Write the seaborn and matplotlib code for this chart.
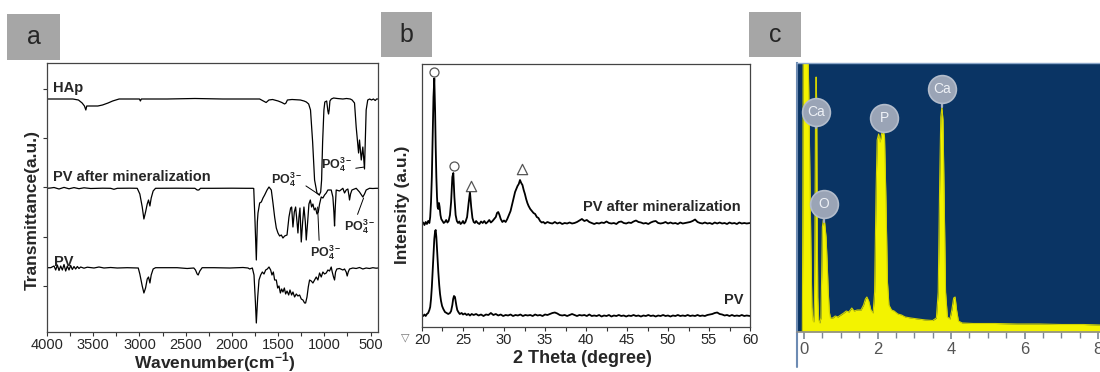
import pandas as pd
import matplotlib
matplotlib.use('Agg')
import matplotlib.pyplot as plt
import seaborn as sns
from matplotlib.patches import Rectangle
from matplotlib.ticker import MultipleLocator

# ---------------- panel a: FTIR, (wavenumber, offset transmittance) ----------------
hap_pts = [(4000, 233), (3800, 233), (3720, 233), (3660, 232), (3620, 229), (3595, 226), (3580, 222),
           (3570, 226), (3550, 226), (3500, 226), (3450, 226), (3400, 227), (3340, 229), (3290, 231),
           (3220, 233), (3000, 233), (2990, 231), (2980, 233), (2700, 233), (2400, 233.5), (2100, 233),
           (1800, 233), (1700, 233), (1660, 231), (1630, 229.5), (1600, 232), (1560, 232.5), (1500, 231),
           (1460, 229.5), (1430, 228), (1415, 229), (1400, 232), (1350, 232.5), (1260, 232), (1220, 231),
           (1195, 230), (1170, 228), (1150, 222), (1127, 190), (1106, 152), (1080, 139), (1055, 137),
           (1040, 140), (1030, 152), (1019, 190), (1005, 222), (995, 230), (975, 231), (962, 221),
           (955, 218), (948, 222), (940, 231), (925, 233), (900, 234), (860, 233.5), (800, 233),
           (760, 233.5), (720, 233), (700, 232), (674, 229), (656, 205), (630, 179), (620, 192),
           (601, 172), (584, 185), (566, 163), (548, 222), (531, 232), (510, 233), (490, 232),
           (470, 233), (450, 231.5), (435, 233), (420, 233)]

mpv_pts = [(4000, 143.7), (3960, 144), (3924, 144.5), (3870, 143), (3816, 144.6), (3762, 143.2),
           (3708, 144.4), (3654, 143.3), (3600, 144.2), (3528, 143.5), (3400, 143.8), (3312, 143.7),
           (3276, 142.7), (3240, 143.7), (3100, 143.8), (3024, 143.7), (2996, 138), (2970, 125),
           (2952, 113), (2934, 120), (2916, 128), (2902, 132), (2887, 126), (2873, 134), (2852, 141),
           (2826, 143.7), (2600, 143.8), (2400, 143.7), (2376, 142), (2358, 142), (2340, 143.7),
           (2200, 143.7), (2000, 143.8), (1850, 143.7), (1772, 143.7), (1764, 143.5), (1750, 110),
           (1736, 72), (1725, 110), (1718, 119), (1700, 129), (1682, 130), (1664, 134), (1646, 137),
           (1620, 142), (1599, 145), (1574, 142), (1556, 129), (1538, 115), (1520, 104), (1502, 99),
           (1484, 96), (1466, 97), (1448, 94), (1430, 96), (1404, 97), (1383, 115), (1365, 124),
           (1354, 125), (1340, 105), (1325, 120), (1311, 125), (1296, 110), (1286, 99), (1275, 115),
           (1264, 124), (1250, 90), (1235, 110), (1221, 125), (1206, 110), (1196, 92), (1181, 110),
           (1167, 128), (1152, 132), (1138, 125), (1124, 128), (1109, 122), (1095, 124), (1080, 118),
           (1066, 120), (1052, 128), (1034, 135), (1016, 134), (998, 137), (980, 139), (962, 142),
           (926, 142), (908, 135), (897, 120), (890, 106), (882, 125), (872, 142), (836, 141),
           (800, 143.7), (782, 139), (764, 142), (746, 143), (735, 137), (728, 132), (717, 138),
           (702, 142), (656, 143.7), (620, 140), (584, 135), (566, 138), (548, 142), (512, 143.7),
           (476, 143.5), (440, 143.7), (420, 143.7)]

pv_pts = [(4000, 64.3), (3960, 64.3), (3924, 66), (3906, 62), (3888, 67), (3870, 61.5), (3852, 66),
          (3834, 62), (3816, 67.5), (3798, 61), (3780, 66), (3762, 62), (3744, 66.5), (3726, 62.5),
          (3708, 65.5), (3690, 63), (3672, 65.5), (3654, 63.5), (3636, 65), (3600, 63.8), (3564, 64.8),
          (3492, 64), (3438, 65), (3384, 64), (3312, 64.5), (3240, 64), (3132, 64.3), (3013, 64),
          (2996, 58), (2970, 46), (2952, 39), (2934, 44), (2916, 53), (2902, 55), (2887, 49),
          (2873, 57), (2852, 63), (2826, 64.3), (2592, 64.3), (2484, 63.5), (2412, 64), (2394, 62),
          (2376, 58), (2365, 57), (2347, 61), (2322, 64.3), (2196, 64.3), (2024, 64), (1880, 64.5),
          (1826, 64), (1808, 63), (1779, 64), (1761, 57), (1746, 30), (1736, 9), (1721, 35),
          (1707, 52), (1689, 57), (1671, 60), (1653, 58), (1635, 62), (1617, 63), (1599, 65),
          (1581, 62), (1567, 57), (1552, 60), (1538, 52), (1520, 52), (1505, 44), (1491, 46),
          (1476, 39), (1462, 43), (1448, 40), (1433, 44), (1419, 38), (1404, 41), (1386, 37),
          (1372, 42), (1354, 37), (1340, 40), (1322, 35), (1304, 38), (1286, 36), (1268, 37),
          (1250, 33), (1232, 32), (1214, 29), (1203, 29), (1188, 35), (1174, 45), (1160, 52),
          (1142, 51), (1124, 49), (1106, 52), (1088, 55), (1070, 52), (1052, 59), (1034, 55),
          (1016, 60), (998, 58), (980, 59), (962, 62), (944, 61), (926, 65), (915, 60), (901, 55),
          (890, 52), (879, 60), (865, 63), (836, 63.5), (800, 62), (782, 63), (764, 60), (753, 56),
          (742, 60), (728, 63), (692, 64), (656, 63.5), (620, 64.5), (584, 63), (548, 64),
          (512, 63.5), (476, 64.3), (440, 63.8), (420, 64)]

a_yticks = [46, 95, 145, 194, 243]
# PO4 labels: (text x, text y, target x, target y, ha, relpos)
po4_notes = [(1235, 152, 1052, 137, 'right', (1.0, 0.3)),
             (696, 167, 566, 165, 'right', (1.0, 0.3)),
             (987, 79, 1073, 125, 'center', (0.3, 1.0)),
             (620, 105, 576, 134, 'center', (0.4, 1.0))]

# ---------------- panel b: XRD, (2 theta, offset intensity) ----------------
xrd_min_pts = [(20.0, 103), (20.15, 104.5), (20.3, 102), (20.45, 105), (20.6, 103), (20.75, 106),
               (20.9, 104), (21.0, 110), (21.1, 125), (21.2, 150), (21.3, 190), (21.4, 230),
               (21.5, 248.7), (21.6, 215), (21.67, 180), (21.75, 150), (21.83, 130), (21.9, 120),
               (21.99, 118), (22.07, 124), (22.15, 120), (22.25, 112), (22.35, 108), (22.5, 106),
               (22.65, 104), (22.8, 105), (22.95, 107), (23.1, 104.5), (23.25, 106), (23.41, 112),
               (23.55, 125), (23.7, 150), (23.82, 154), (23.95, 130), (24.1, 112), (24.25, 106),
               (24.4, 104), (24.55, 105.5), (24.7, 103), (24.85, 104), (25.0, 106), (25.15, 103.5),
               (25.3, 105), (25.5, 110), (25.7, 125), (25.85, 135), (26.0, 120), (26.15, 109),
               (26.3, 105), (26.45, 104), (26.6, 106), (26.8, 104), (27.0, 103), (27.2, 105.5),
               (27.4, 104), (27.6, 106), (27.8, 103.5), (28.0, 105), (28.2, 107), (28.4, 104.5),
               (28.6, 106), (28.8, 108), (29.0, 110), (29.15, 114), (29.3, 115), (29.45, 112),
               (29.6, 108), (29.8, 105), (30.0, 106.5), (30.2, 105), (30.4, 108), (30.6, 112),
               (30.8, 116), (31.0, 123), (31.2, 130), (31.35, 135), (31.5, 138), (31.65, 141),
               (31.8, 143), (31.95, 147), (32.1, 144), (32.25, 142), (32.4, 137), (32.55, 133),
               (32.7, 128), (32.85, 124), (33.0, 121), (33.2, 118), (33.4, 116), (33.6, 114),
               (33.8, 113), (34.0, 110), (34.2, 109), (34.4, 106), (34.6, 104.5), (34.8, 105),
               (35.0, 103.5), (35.3, 105), (35.6, 104), (35.9, 103.5), (36.2, 105), (36.5, 103.5),
               (36.8, 104.5), (37.1, 103), (37.4, 104), (37.7, 103.5), (38.0, 104.5), (38.3, 103.5),
               (38.6, 104), (38.9, 105), (39.2, 106.5), (39.5, 108), (39.8, 106), (40.1, 107),
               (40.4, 105), (40.7, 104), (41.0, 103), (41.3, 104), (41.6, 103.5), (41.9, 104.5),
               (42.2, 104), (42.5, 105.5), (42.8, 104), (43.1, 103.5), (43.4, 104), (43.7, 103),
               (44.0, 105), (44.3, 105.5), (44.6, 104), (44.9, 103.5), (45.2, 104.5), (45.5, 104),
               (45.8, 105.5), (46.1, 106.5), (46.4, 105), (46.7, 104.5), (47.0, 103.5), (47.3, 104),
               (47.6, 103), (47.9, 104.5), (48.2, 105.5), (48.5, 106), (48.8, 104), (49.1, 103.5),
               (49.4, 104), (49.7, 105), (50.0, 103.5), (50.3, 104.5), (50.6, 103.5), (50.9, 104),
               (51.2, 103), (51.5, 104.5), (51.8, 103.5), (52.1, 104), (52.4, 104.5), (52.7, 105),
               (53.0, 106), (53.3, 107.5), (53.6, 105), (53.9, 104), (54.2, 103.5), (54.5, 104.5),
               (54.8, 103.5), (55.1, 104), (55.4, 103), (55.7, 104.5), (56.0, 103.5), (56.3, 104.5),
               (56.6, 103.5), (56.9, 104), (57.2, 103), (57.5, 104.5), (57.8, 103.5), (58.1, 104),
               (58.4, 103), (58.7, 104.5), (59.0, 103.5), (59.3, 104), (59.6, 103.5), (60.0, 104)]

xrd_pv_pts = [(20.0, 12), (20.15, 11), (20.3, 12.5), (20.45, 11), (20.6, 13), (20.75, 14), (20.9, 17),
              (21.0, 20), (21.1, 28), (21.2, 40), (21.3, 55), (21.4, 72), (21.5, 88), (21.6, 96),
              (21.67, 97), (21.75, 90), (21.83, 78), (21.9, 66), (21.99, 55), (22.1, 42), (22.2, 33),
              (22.32, 26), (22.45, 21), (22.6, 18), (22.8, 15), (23.0, 14), (23.2, 13), (23.41, 14),
              (23.55, 16), (23.7, 22), (23.8, 28), (23.9, 31), (24.02, 30), (24.1, 26), (24.2, 21),
              (24.3, 17), (24.43, 15), (24.6, 13), (24.84, 14), (25.0, 12.5), (25.24, 13.5),
              (25.45, 12), (25.65, 13), (25.85, 11.5), (26.06, 13), (26.3, 12), (26.6, 13),
              (26.9, 11.5), (27.2, 12.5), (27.5, 11), (27.8, 12.5), (28.1, 12), (28.4, 14), (28.7, 12),
              (29.0, 13), (29.3, 11.5), (29.6, 12.5), (29.9, 11), (30.2, 12), (30.5, 11.5),
              (30.8, 12.5), (31.1, 11), (31.4, 12), (31.7, 11.5), (32.0, 12.5), (32.3, 11), (32.6, 12),
              (32.9, 11.5), (33.2, 12), (33.5, 11), (33.8, 12.5), (34.1, 11.5), (34.4, 12), (34.7, 11),
              (35.0, 12.5), (35.3, 12), (35.6, 13), (35.9, 14), (36.2, 14.5), (36.5, 13.5), (36.8, 12),
              (37.1, 11.5), (37.4, 12), (37.7, 11), (38.0, 12), (38.3, 13), (38.6, 12), (38.9, 11),
              (39.2, 12), (39.5, 11.5), (39.8, 12), (40.1, 11), (40.4, 12.5), (40.7, 11), (41.0, 11.5),
              (41.3, 11), (41.6, 12), (41.9, 10.5), (42.2, 11.5), (42.5, 11), (42.8, 12), (43.1, 10.5),
              (43.4, 11.5), (43.7, 11), (44.0, 12), (44.3, 11), (44.6, 11.5), (44.9, 10.5),
              (45.2, 11.5), (45.5, 11), (45.8, 12), (46.1, 11), (46.4, 11.5), (46.7, 10.5),
              (47.0, 11.5), (47.3, 11), (47.6, 12), (47.9, 11), (48.2, 11.5), (48.5, 10.5),
              (48.8, 11.5), (49.1, 11), (49.4, 12), (49.7, 11), (50.0, 11.5), (50.3, 10.5),
              (50.6, 11.5), (50.9, 11), (51.2, 12), (51.5, 11), (51.8, 11.5), (52.1, 11), (52.4, 12),
              (52.7, 11), (53.0, 11.5), (53.3, 11), (53.6, 12), (53.9, 11), (54.2, 11.5), (54.5, 11),
              (54.8, 12), (55.1, 12.5), (55.4, 13), (55.7, 14), (56.0, 14.5), (56.3, 13), (56.6, 12.5),
              (56.9, 11.5), (57.2, 12), (57.5, 11), (57.8, 12), (58.1, 11), (58.4, 11.5), (58.7, 11),
              (59.0, 12), (59.3, 11), (59.6, 11.5), (60.0, 11)]

circle_x = [21.5, 23.94]
circle_y = [255.3, 161]
triangle_x = [25.98, 32.16]
triangle_y = [141, 157.7]

# ---------------- panel c: EDS, (keV, counts) ----------------
eds_pts = [(-0.19, 0), (-0.045, 0), (-0.03, 150), (-0.02, 300), (0.10, 300), (0.13, 240), (0.16, 160),
           (0.19, 80), (0.215, 25), (0.24, 12), (0.265, 10), (0.285, 30), (0.30, 120), (0.315, 230),
           (0.33, 255), (0.345, 230), (0.36, 110), (0.375, 35), (0.40, 12), (0.43, 9), (0.46, 14),
           (0.48, 55), (0.50, 105), (0.53, 113), (0.56, 110), (0.60, 95), (0.63, 70), (0.66, 40),
           (0.69, 20), (0.72, 14), (0.78, 14), (0.85, 16), (0.92, 15), (1.0, 17), (1.08, 19),
           (1.15, 21), (1.22, 20), (1.3, 24), (1.36, 21), (1.45, 22), (1.55, 22), (1.62, 27),
           (1.67, 33), (1.71, 35), (1.76, 31), (1.82, 22), (1.88, 19), (1.92, 40), (1.96, 140),
           (1.99, 192), (2.03, 198), (2.07, 190), (2.11, 198), (2.15, 203), (2.19, 195), (2.23, 130),
           (2.27, 50), (2.31, 27), (2.38, 22), (2.45, 21), (2.55, 18), (2.65, 17), (2.75, 15),
           (2.9, 14), (3.1, 13), (3.3, 12), (3.5, 11.5), (3.6, 14), (3.65, 40), (3.69, 150),
           (3.72, 215), (3.75, 225), (3.78, 212), (3.81, 140), (3.85, 40), (3.9, 15), (3.97, 13),
           (4.02, 22), (4.07, 34), (4.11, 35), (4.15, 22), (4.2, 11), (4.3, 9), (4.6, 8.5),
           (5.2, 8.5), (5.8, 8), (6.4, 8), (7.0, 7.5), (7.6, 7.5), (8.05, 7)]

eds_labels = ['Ca', 'O', 'P', 'Ca']
eds_label_x = [0.32, 0.55, 2.18, 3.75]
eds_label_y = [220, 128, 214, 243]
eds_stem_y = [204, 110, 200, 225]

hap = pd.DataFrame(hap_pts, columns=['wn', 't'])
mpv = pd.DataFrame(mpv_pts, columns=['wn', 't'])
pv = pd.DataFrame(pv_pts, columns=['wn', 't'])
xrd_min = pd.DataFrame(xrd_min_pts, columns=['theta', 'i'])
xrd_pv = pd.DataFrame(xrd_pv_pts, columns=['theta', 'i'])
eds = pd.DataFrame(eds_pts, columns=['kev', 'cps'])

sns.set_style('ticks')
plt.rcParams['font.family'] = ['Liberation Sans', 'DejaVu Sans']
plt.rcParams['mathtext.fontset'] = 'custom'
plt.rcParams['mathtext.rm'] = 'Liberation Sans'
plt.rcParams['mathtext.bf'] = 'Liberation Sans:bold'

W, H = 1100, 372
fig = plt.figure(figsize=(11, 3.72), dpi=100)
ax1 = fig.add_axes([47 / W, 1 - 332 / H, 331 / W, 269 / H])
ax2 = fig.add_axes([422 / W, 1 - 327 / H, 328 / W, 263 / H])
ax3 = fig.add_axes([797 / W, 1 - 332 / H, 303 / W, 269 / H])

# ---- panel a ----
for df in (hap, mpv, pv):
    sns.lineplot(data=df, x='wn', y='t', ax=ax1, color='black', lw=0.9, sort=False, estimator=None)
ax1.set_xlim(4000, 420)
ax1.set_ylim(0, 269)
ax1.xaxis.set_major_locator(MultipleLocator(500))
ax1.xaxis.set_minor_locator(MultipleLocator(250))
ax1.set_yticks(a_yticks)
ax1.set_yticklabels([])
ax1.tick_params(which='both', direction='out', length=3, width=0.8, color='#333333',
                labelsize=10.5, pad=1)
ax1.set_xlabel(r'Wavenumber(cm$^{\mathbf{-1}}$)', fontsize=12.5, fontweight='bold', va='center')
ax1.xaxis.set_label_coords(0.508, -0.112)
ax1.set_ylabel('Transmittance(a.u.)', fontsize=12.5, fontweight='bold', va='center')
ax1.yaxis.set_label_coords(-0.045, 0.453)
ax1.text(3935, 244, 'HAp', fontsize=10.5, fontweight='bold', va='center')
ax1.text(3935, 155, 'PV after mineralization', fontsize=10.5, fontweight='bold', va='center')
ax1.text(3924, 70.5, 'PV', fontsize=10.5, fontweight='bold', va='center')
for tx, ty, px, py, ha, rp in po4_notes:
    ax1.annotate(r'$\mathbf{PO_4^{3-}}$', xy=(px, py), xytext=(tx, ty), ha=ha, va='center',
                 fontsize=9, arrowprops=dict(arrowstyle='-', lw=0.7, color='black', relpos=rp,
                                             shrinkA=0, shrinkB=0))

# ---- panel b ----
sns.lineplot(data=xrd_min, x='theta', y='i', ax=ax2, color='black', lw=1.3, sort=False, estimator=None)
sns.lineplot(data=xrd_pv, x='theta', y='i', ax=ax2, color='black', lw=1.3, sort=False, estimator=None)
sns.scatterplot(x=circle_x, y=circle_y, ax=ax2, marker='o', s=42, facecolor='white',
                edgecolor='#555555', linewidth=0.9, zorder=5)
sns.scatterplot(x=triangle_x, y=triangle_y, ax=ax2, marker='^', s=55, facecolor='white',
                edgecolor='#555555', linewidth=0.9, zorder=5)
ax2.set_xlim(20, 60)
ax2.set_ylim(0, 263)
ax2.xaxis.set_major_locator(MultipleLocator(5))
ax2.xaxis.set_minor_locator(MultipleLocator(2.5))
ax2.set_yticks([])
ax2.tick_params(which='both', direction='out', length=3, width=0.8, color='#333333',
                labelsize=10.5, pad=1)
ax2.set_xlabel('2 Theta (degree)', fontsize=13, fontweight='bold', va='center')
ax2.xaxis.set_label_coords(0.488, -0.118)
ax2.set_ylabel('Intensity (a.u.)', fontsize=12.5, fontweight='bold', va='center')
ax2.yaxis.set_label_coords(-0.058, 0.464)
ax2.text(58.8, 120, 'PV after mineralization', fontsize=10.5, fontweight='bold', ha='right', va='center')
ax2.text(59.15, 27, 'PV', fontsize=10.5, fontweight='bold', ha='right', va='center')
fig.text(405 / W, 1 - 337 / H, '\u25bd', fontsize=8, color='#777777', ha='center', va='center')

for ax in (ax1, ax2):
    for sp in ax.spines.values():
        sp.set_color('#444444')
        sp.set_linewidth(0.9)

# ---- panel c ----
ax3.set_facecolor('#0a3464')
ax3.fill_between(eds['kev'], 0, eds['cps'], color='#f3f300', lw=0)
sns.lineplot(data=eds, x='kev', y='cps', ax=ax3, color='#d2d200', lw=0.8, sort=False, estimator=None)
for x, y, ys in zip(eds_label_x, eds_label_y, eds_stem_y):
    ax3.plot([x, x], [y, ys], color='#a7b0c0', lw=1.6, zorder=6)
sns.scatterplot(x=eds_label_x, y=eds_label_y, ax=ax3, marker='o', s=400, color='#9aa4b6',
                edgecolor='#b3bccb', linewidth=1.2, zorder=7)
for lab, x, y in zip(eds_labels, eds_label_x, eds_label_y):
    ax3.text(x, y, lab, fontsize=10, color='#eef1f6', ha='center', va='center', zorder=8)
ax3.set_xlim(-0.19, 8.05)
ax3.set_ylim(0, 269)
ax3.xaxis.set_major_locator(MultipleLocator(2))
ax3.xaxis.set_minor_locator(MultipleLocator(0.5))
ax3.set_yticks([])
ax3.tick_params(which='major', direction='out', length=5, width=1.2, color='#7d8794',
                labelsize=12, labelcolor='#555555', pad=2)
ax3.tick_params(which='minor', direction='out', length=4, width=1.0, color='#7d8794')
ax3.set_xlabel('')
ax3.set_ylabel('')
ax3.spines['right'].set_visible(False)
ax3.spines['top'].set_color('#8aa6c8')
ax3.spines['top'].set_linewidth(1.0)
ax3.spines['left'].set_color('#6d8bb3')
ax3.spines['left'].set_linewidth(1.5)
ax3.spines['bottom'].set_color('#8c8c8c')
ax3.spines['bottom'].set_linewidth(1.2)
ax3.plot([0, 0], [0, -0.13], transform=ax3.transAxes, color='#6d8bb3', lw=1.5, clip_on=False)

# ---- panel letter boxes ----
for (x0, y0, x1, y1), letter in zip([(7, 14, 60, 60), (381, 12, 432, 57), (749, 12, 801, 57)], 'abc'):
    fig.add_artist(Rectangle((x0 / W, 1 - y1 / H), (x1 - x0) / W, (y1 - y0) / H,
                             transform=fig.transFigure, color='#a6a6a6', lw=0))
    fig.text((x0 + x1) / 2 / W, 1 - (y0 + y1) / 2 / H, letter, fontsize=18, ha='center', va='center')

fig.savefig('out.png', dpi=100)
